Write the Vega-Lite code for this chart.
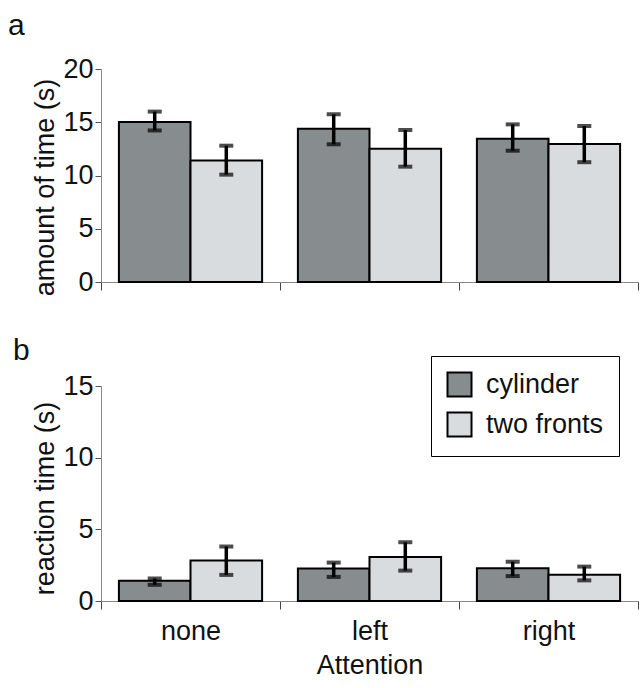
{
  "$schema": "https://vega.github.io/schema/vega-lite/v6.json",
  "padding": {"left": 8, "top": 11, "right": 2, "bottom": 4},
  "background": "white",
  "config": {
    "font": "Liberation Sans",
    "view": {"stroke": null},
    "axis": {"labelFont": "Liberation Sans", "titleFont": "Liberation Sans", "labelColor": "#111", "titleColor": "#111", "titleFontWeight": "normal", "grid": false},
    "title": {"font": "Liberation Sans", "fontWeight": "normal", "color": "#111"},
    "legend": {"labelFont": "Liberation Sans"}
  },
  "datasets": {
    "a": [
      {"attention": "none", "condition": "cylinder", "mean": 15.02, "lo": 14.23, "hi": 16.0},
      {"attention": "none", "condition": "two fronts", "mean": 11.42, "lo": 10.08, "hi": 12.8},
      {"attention": "left", "condition": "cylinder", "mean": 14.4, "lo": 12.93, "hi": 15.75},
      {"attention": "left", "condition": "two fronts", "mean": 12.52, "lo": 10.83, "hi": 14.27},
      {"attention": "right", "condition": "cylinder", "mean": 13.46, "lo": 12.33, "hi": 14.8},
      {"attention": "right", "condition": "two fronts", "mean": 12.96, "lo": 11.25, "hi": 14.65}
    ],
    "b": [
      {"attention": "none", "condition": "cylinder", "mean": 1.42, "lo": 1.13, "hi": 1.57},
      {"attention": "none", "condition": "two fronts", "mean": 2.82, "lo": 1.82, "hi": 3.8},
      {"attention": "left", "condition": "cylinder", "mean": 2.26, "lo": 1.68, "hi": 2.68},
      {"attention": "left", "condition": "two fronts", "mean": 3.07, "lo": 2.12, "hi": 4.1},
      {"attention": "right", "condition": "cylinder", "mean": 2.28, "lo": 1.74, "hi": 2.74},
      {"attention": "right", "condition": "two fronts", "mean": 1.84, "lo": 1.44, "hi": 2.4}
    ]
  },
  "spacing": 39,
  "resolve": {"scale": {"fill": "independent", "x": "independent", "xOffset": "independent", "y": "independent"}, "legend": {"fill": "independent"}},
  "vconcat": [
    {
      "width": 537,
      "height": 213,
      "title": {"text": "a", "anchor": "start", "frame": "group", "dx": -93, "fontSize": 30, "offset": 14},
      "data": {"name": "a"},
      "encoding": {
        "x": {"field": "attention", "type": "nominal", "sort": ["none", "left", "right"],
              "scale": {"paddingInner": 0, "paddingOuter": 0},
              "axis": {"labels": false, "title": null, "tickBand": "extent", "tickSize": 8, "domainColor": "#888", "tickColor": "#444", "tickWidth": 1}},
        "xOffset": {"field": "condition", "type": "nominal", "sort": ["cylinder", "two fronts"], "scale": {"paddingInner": 0, "paddingOuter": 0.25}}
      },
      "layer": [
        {
          "mark": {"type": "bar", "stroke": "black", "strokeWidth": 2},
          "encoding": {
            "y": {"field": "mean", "type": "quantitative", "scale": {"domain": [0, 20], "nice": false},
                  "axis": {"title": "amount of time (s)", "titleY": 118, "values": [0, 5, 10, 15, 20], "tickSize": 6, "labelPadding": 2, "titlePadding": 3, "labelFontSize": 27, "titleFontSize": 27, "domainColor": "#888", "tickColor": "#555"}},
            "fill": {"field": "condition", "type": "nominal", "scale": {"domain": ["cylinder", "two fronts"], "range": ["#878c8e", "#d9dcdf"]}, "legend": null}
          }
        },
        {
          "mark": {"type": "rule", "color": "black", "strokeWidth": 3.5},
          "encoding": {"y": {"field": "lo", "type": "quantitative"}, "y2": {"field": "hi"}}
        },
        {
          "mark": {"type": "tick", "color": "black", "size": 14, "thickness": 4},
          "encoding": {"y": {"field": "lo", "type": "quantitative"}}
        },
        {
          "mark": {"type": "tick", "color": "black", "size": 14, "thickness": 4},
          "encoding": {"y": {"field": "hi", "type": "quantitative"}}
        }
      ]
    },
    {
      "width": 537,
      "height": 215,
      "title": {"text": "b", "anchor": "start", "frame": "group", "dx": -88, "fontSize": 30, "offset": -10},
      "data": {"name": "b"},
      "encoding": {
        "x": {"field": "attention", "type": "nominal", "sort": ["none", "left", "right"],
              "scale": {"paddingInner": 0, "paddingOuter": 0},
              "axis": {"title": "Attention", "labelAngle": 0, "labelFontSize": 27, "titleFontSize": 27, "labelPadding": 9, "titlePadding": 8, "tickBand": "extent", "tickSize": 8, "domainColor": "#888", "tickColor": "#444", "tickWidth": 1}},
        "xOffset": {"field": "condition", "type": "nominal", "sort": ["cylinder", "two fronts"], "scale": {"paddingInner": 0, "paddingOuter": 0.25}}
      },
      "layer": [
        {
          "mark": {"type": "bar", "stroke": "black", "strokeWidth": 2},
          "encoding": {
            "y": {"field": "mean", "type": "quantitative", "scale": {"domain": [0, 15], "nice": false},
                  "axis": {"title": "reaction time (s)", "titleY": 112, "values": [0, 5, 10, 15], "tickSize": 6, "labelPadding": 2, "titlePadding": 3, "labelFontSize": 27, "titleFontSize": 27, "domainColor": "#888", "tickColor": "#555"}},
            "fill": {"field": "condition", "type": "nominal", "scale": {"domain": ["cylinder", "two fronts"], "range": ["#878c8e", "#d9dcdf"]},
                     "legend": {"title": null, "orient": "none", "legendX": 330, "legendY": -30, "strokeColor": "black", "fillColor": "white", "padding": 15, "symbolType": "square", "symbolSize": 576, "symbolStrokeColor": "black", "symbolStrokeWidth": 2, "symbolOpacity": 1, "labelFontSize": 27, "labelOffset": 13, "rowPadding": 7, "labelColor": "#111"}}
          }
        },
        {
          "mark": {"type": "rule", "color": "black", "strokeWidth": 3.5},
          "encoding": {"y": {"field": "lo", "type": "quantitative"}, "y2": {"field": "hi"}}
        },
        {
          "mark": {"type": "tick", "color": "black", "size": 14, "thickness": 4},
          "encoding": {"y": {"field": "lo", "type": "quantitative"}}
        },
        {
          "mark": {"type": "tick", "color": "black", "size": 14, "thickness": 4},
          "encoding": {"y": {"field": "hi", "type": "quantitative"}}
        }
      ]
    }
  ]
}
